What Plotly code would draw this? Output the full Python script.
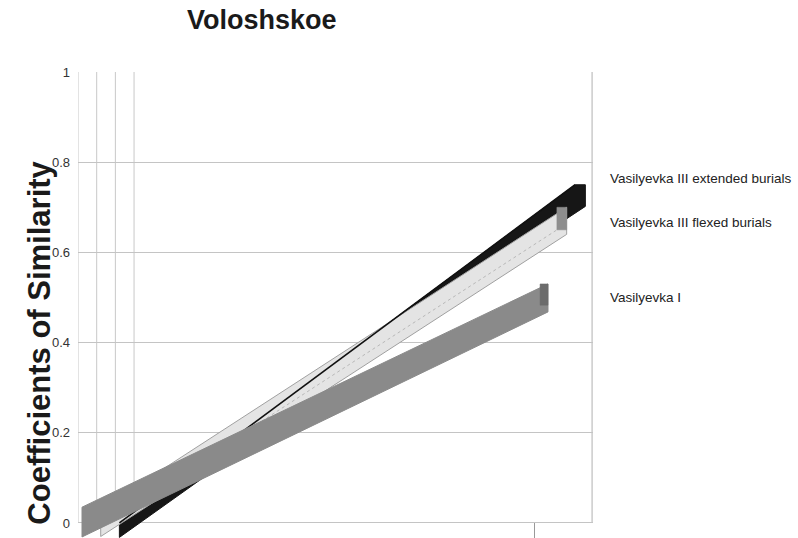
import plotly.graph_objects as go

# --- data -------------------------------------------------------------
series_names = [
    "Vasilyevka III extended burials",
    "Vasilyevka III flexed burials",
    "Vasilyevka I",
]
category_positions = [0, 1]
extended_values = [0.0, 0.75]
flexed_values = [0.03, 0.70]
vasilyevka_i_values = [0.035, 0.53]

y_tick_values = [0, 0.2, 0.4, 0.6, 0.8, 1]
y_tick_labels = ["0", "0.2", "0.4", "0.6", "0.8", "1"]

# --- 3-D ribbon styling ----------------------------------------------
DX = 0.0401          # horizontal shift per depth row (x-axis units)
X_RANGE = [-0.0086, 1.0966]
Y_RANGE = [-0.0333, 1.0]
FONT = "Arial, 'Liberation Sans', sans-serif"


def ribbon(values, depth, thick_start, thick_end):
    x0 = category_positions[0] + depth * DX
    x1 = category_positions[1] + depth * DX
    xs = [x0, x1, x1, x0, x0]
    ys = [values[0], values[1], values[1] - thick_end, values[0] - thick_start, values[0]]
    return xs, ys


def bevelled_ribbon(values, depth, thick_start, thick_end, bevel_x, bevel_y):
    """Ribbon whose far end is cut on a slant (end face seen in perspective)."""
    x0 = category_positions[0] + depth * DX
    x1 = category_positions[1] + depth * DX
    xs = [x0, x1 - bevel_x, x1, x1, x1 - 1.6 * bevel_x, x0, x0]
    ys = [values[0], values[1], values[1], values[1] - thick_end,
          values[1] - thick_end - bevel_y, values[0] - thick_start, values[0]]
    return xs, ys


def end_cap(values, depth, thick_end, width):
    x1 = category_positions[1] + depth * DX
    xs = [x1 - width, x1, x1, x1 - width, x1 - width]
    ys = [values[1], values[1], values[1] - thick_end, values[1] - thick_end, values[1]]
    return xs, ys


fig = go.Figure()

# back row: extended burials (black)
bx, by = bevelled_ribbon(extended_values, 2, 0.032, 0.048, 0.022, 0.024)
fig.add_trace(go.Scatter(x=bx, y=by, fill="toself", mode="lines",
                         fillcolor="#161616", line=dict(color="#161616", width=1),
                         name=series_names[0], showlegend=False, hoverinfo="skip"))

# middle row: flexed burials (light grey)
lx, ly = ribbon(flexed_values, 1, 0.06, 0.06)
fig.add_trace(go.Scatter(x=lx, y=ly, fill="toself", mode="lines",
                         fillcolor="#e4e4e4", line=dict(color="#a0a0a0", width=1),
                         name=series_names[1], showlegend=False, hoverinfo="skip"))
# fold between the upper and lower face of the light ribbon
fig.add_trace(go.Scatter(x=lx[:2], y=[v - 0.036 for v in ly[:2]], mode="lines",
                         line=dict(color="#b8b8b8", width=1, dash="dot"),
                         showlegend=False, hoverinfo="skip"))

# top edge of the back ribbon showing through
fig.add_trace(go.Scatter(x=bx[:2], y=by[:2], mode="lines",
                         line=dict(color="#111111", width=1.6),
                         showlegend=False, hoverinfo="skip"))

cx, cy = end_cap(flexed_values, 1, 0.05, 0.021)
fig.add_trace(go.Scatter(x=cx, y=cy, fill="toself", mode="lines",
                         fillcolor="#8e8e8e", line=dict(color="#8e8e8e", width=0.5),
                         showlegend=False, hoverinfo="skip"))

# front row: Vasilyevka I (mid grey)
gx, gy = ribbon(vasilyevka_i_values, 0, 0.066, 0.062)
fig.add_trace(go.Scatter(x=gx, y=gy, fill="toself", mode="lines",
                         fillcolor="#8a8a8a", line=dict(color="#8a8a8a", width=1),
                         name=series_names[2], showlegend=False, hoverinfo="skip"))

cx, cy = end_cap(vasilyevka_i_values, 0, 0.047, 0.017)
fig.add_trace(go.Scatter(x=cx, y=cy, fill="toself", mode="lines",
                         fillcolor="#6c6c6c", line=dict(color="#6c6c6c", width=0.5),
                         showlegend=False, hoverinfo="skip"))

# side-wall depth lines at the left of the plot
shapes = []
for j in range(4):
    xv = X_RANGE[0] + j * DX
    shapes.append(dict(type="line", xref="x", yref="y", x0=xv, x1=xv, y0=0, y1=1,
                       line=dict(color="#c8c8c8", width=1), layer="below"))
# right-hand frame
shapes.append(dict(type="line", xref="x", yref="y", x0=X_RANGE[1] - 0.002, x1=X_RANGE[1] - 0.002,
                   y0=0, y1=1, line=dict(color="#b0b0b0", width=1), layer="below"))

# series labels at the right
label_y = [0.7725, 0.676, 0.517]
annotations = [
    dict(text=name, xref="paper", yref="paper", x=1.029, y=yy, xanchor="left",
         yanchor="middle", showarrow=False, font=dict(family=FONT, size=13.5, color="#222222"))
    for name, yy in zip(series_names, label_y)
]
annotations.append(dict(text="<b>Voloshskoe</b>", xref="paper", yref="paper", x=0.357, y=1.1116,
                        xanchor="center", yanchor="middle", showarrow=False,
                        font=dict(family=FONT, size=27, color="#1a1a1a")))
annotations.append(dict(text="<b>Coefficients of Similarity</b>", xref="paper", yref="paper",
                        x=-0.074, y=0.419, xanchor="center", yanchor="middle", textangle=-90,
                        showarrow=False, font=dict(family=FONT, size=31, color="#1a1a1a")))

fig.update_layout(
    width=798, height=538,
    margin=dict(l=78, r=205, t=72, b=0),
    paper_bgcolor="white", plot_bgcolor="white",
    showlegend=False,
    shapes=shapes,
    annotations=annotations,
    xaxis=dict(range=X_RANGE, showgrid=False, zeroline=False, showline=False,
               tickvals=[0.972], ticks="inside", ticklen=15, tickcolor="#999999",
               showticklabels=False, fixedrange=True),
    yaxis=dict(range=Y_RANGE, tickvals=y_tick_values, ticktext=y_tick_labels,
               showgrid=True, gridcolor="#c4c4c4", gridwidth=1, zeroline=False,
               showline=False, ticks="", ticklabelstandoff=7,
               tickfont=dict(family=FONT, size=13, color="#333333"), fixedrange=True),
)

fig.write_html("out.html")
